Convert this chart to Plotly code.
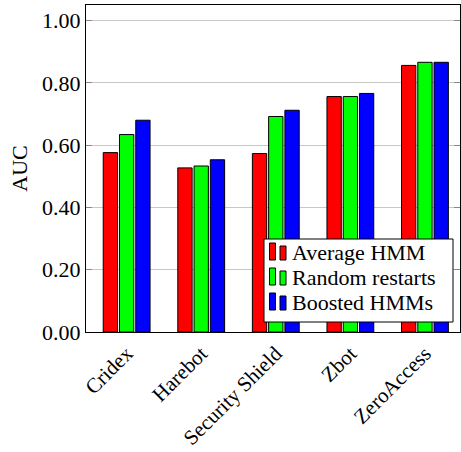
import plotly.graph_objects as go

categories = ["Cridex", "Harebot", "Security Shield", "Zbot", "ZeroAccess"]
series_names = ["Average HMM", "Random restarts", "Boosted HMMs"]
average_hmm = [0.576, 0.527, 0.573, 0.756, 0.856]
random_restarts = [0.634, 0.533, 0.692, 0.756, 0.866]
boosted_hmms = [0.680, 0.553, 0.712, 0.766, 0.866]
colors = ["#ff0000", "#00ff00", "#0000ff"]
y_ticks = [0.0, 0.2, 0.4, 0.6, 0.8, 1.0]
y_tick_labels = ["0.00", "0.20", "0.40", "0.60", "0.80", "1.00"]

FONT = "Liberation Serif"
FS = 22
W, H = 461, 452
ML, MR, MT, MB = 86, 1, 5, 120
PW, PH = W - ML - MR, H - MT - MB


def px_x(x):
    return (x - ML) / PW


def px_y(y):
    return (H - MB - y) / PH


fig = go.Figure()
for name, vals, col in zip(series_names, [average_hmm, random_restarts, boosted_hmms], colors):
    fig.add_trace(go.Bar(
        x=categories, y=vals, name=name, showlegend=False,
        marker=dict(color=col, line=dict(color="black", width=1)),
    ))

# manual pgfplots-style legend
shapes = [dict(type="rect", xref="paper", yref="paper",
               x0=px_x(264), x1=px_x(453), y0=px_y(322), y1=px_y(239),
               fillcolor="white", line=dict(color="black", width=1), layer="above")]
annotations = []
for i, (name, col) in enumerate(zip(series_names, colors)):
    base = 260 + 25 * i
    shapes.append(dict(type="rect", xref="paper", yref="paper",
                       x0=px_x(269.5), x1=px_x(275.5), y0=px_y(base), y1=px_y(base - 17),
                       fillcolor=col, line=dict(color="black", width=1), layer="above"))
    shapes.append(dict(type="rect", xref="paper", yref="paper",
                       x0=px_x(280), x1=px_x(286), y0=px_y(base), y1=px_y(base - 14),
                       fillcolor=col, line=dict(color="black", width=1), layer="above"))
    annotations.append(dict(text=name, xref="paper", yref="paper",
                            x=px_x(290), y=px_y(base - 8), xanchor="left", yanchor="middle",
                            showarrow=False, font=dict(family=FONT, size=FS, color="black")))

fig.update_layout(
    width=W, height=H,
    margin=dict(l=ML, r=MR, t=MT, b=MB),
    paper_bgcolor="white", plot_bgcolor="white",
    barmode="group", bargap=0.346, bargroupgap=0.12,
    font=dict(family=FONT, size=FS, color="black"),
    showlegend=False,
    shapes=shapes, annotations=annotations,
    xaxis=dict(
        range=[-0.545, 4.47], showgrid=False, automargin=False,
        showline=True, linecolor="black", linewidth=1, mirror=True,
        ticks="", tickangle=-45, tickfont=dict(family=FONT, size=21),
    ),
    yaxis=dict(
        range=[0, 1.05], tickvals=y_ticks, ticktext=y_tick_labels,
        automargin=False,
        showgrid=True, gridcolor="#c8c8c8", gridwidth=1,
        showline=True, linecolor="black", linewidth=1, mirror="allticks",
        ticks="inside", ticklen=6, tickcolor="#888888",
        zeroline=False,
        title=dict(text="AUC", font=dict(family=FONT, size=FS), standoff=8),
        tickfont=dict(family=FONT, size=FS),
    ),
)

fig.write_html("out.html", config={"displayModeBar": False},
               post_script="document.body.style.margin='0';")
